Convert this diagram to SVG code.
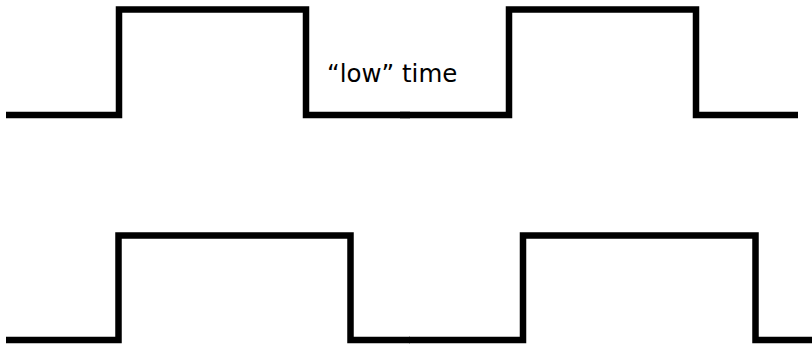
<svg xmlns="http://www.w3.org/2000/svg" width="812" height="344" viewBox="0 0 812 344">
  <style>
    .wave { fill: none; stroke: #000; stroke-width: 6.5; stroke-linejoin: miter; stroke-linecap: butt; }
    .label { font-family: "DejaVu Sans", "Liberation Sans", sans-serif; font-size: 24.5px; fill: #000; }
  </style>
  <rect width="812" height="344" fill="#fff"/>
  <g id="connectors">
    <!-- upper waveform: two periods, each drawn as its own segment -->
    <path class="wave" d="M6 115 H119 V9.5 H306 V115 H410"/>
    <path class="wave" d="M400 115 H509 V9.5 H696 V115 H798"/>
    <!-- lower waveform: longer high phase -->
    <path class="wave" d="M6 340 H118.5 V235.5 H350.5 V340 H410"/>
    <path class="wave" d="M409 340 H523 V235.5 H755.5 V340 H812"/>
  </g>
  <g id="low-time-label">
    <text class="label" x="327" y="82">“low” time</text>
  </g>
</svg>
